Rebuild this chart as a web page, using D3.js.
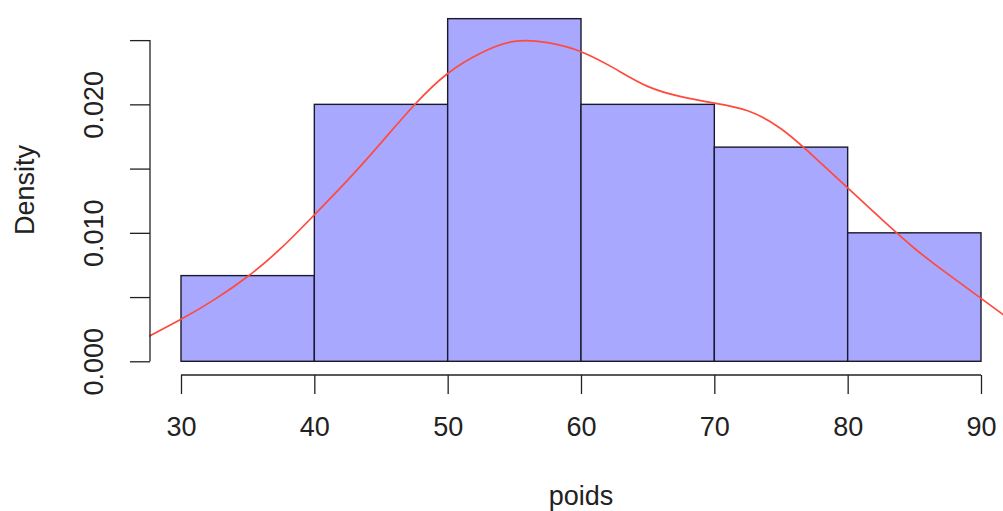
<!DOCTYPE html>
<meta charset="utf-8">
<head>
<style>
  body { margin: 0; background: #fff; }
  svg { display: block; font-family: "Liberation Sans", Arial, sans-serif; }
  .axis text { font-size: 27px; fill: #222; }
  .axis line, .axis-line { stroke: #222; stroke-width: 1.3; }
</style>
</head>
<body>
<script src="https://cdnjs.cloudflare.com/ajax/libs/d3/7.8.5/d3.min.js"></script>
<script>

// histogram bins (poids) and density heights
const binStarts = [30, 40, 50, 60, 70, 80];
const binEnds   = [40, 50, 60, 70, 80, 90];
const densities = [0.00667, 0.02, 0.02667, 0.02, 0.01667, 0.01];

// kernel density curve
const kdeX = [27.5, 30, 32.5, 35, 37.5, 40, 42.5, 45, 47.5, 50, 52.5, 55, 57.5, 60, 62.5, 65, 67.5, 70, 72.5, 75, 77.5, 80, 82.5, 85, 87.5, 90, 92.5];
const kdeY = [0.0019, 0.00327, 0.0048, 0.0066, 0.0088, 0.0114, 0.0141, 0.0170, 0.01995, 0.0224, 0.0240, 0.0249, 0.0248, 0.0241, 0.0228, 0.0214, 0.0206, 0.0201, 0.0195, 0.0181, 0.0159, 0.0135, 0.0111, 0.0088, 0.0068, 0.0049, 0.0030];

const xTicks = [30, 40, 50, 60, 70, 80, 90];
const yTicks = [0, 0.005, 0.01, 0.015, 0.02, 0.025];
const yLabelled = [0, 0.01, 0.02];

const width = 1003, height = 511;

const x = d3.scaleLinear().domain([27.6, 92.4]).range([149, 1013]);
const y = d3.scaleLinear().domain([-0.0010667, 0.0277333]).range([375, 5]);

const svg = d3.select("body").append("svg")
  .attr("width", width)
  .attr("height", height);

svg.append("defs").append("clipPath")
    .attr("id", "plot")
  .append("rect")
    .attr("x", 149).attr("y", 5)
    .attr("width", 864).attr("height", 370);

// bars
const bins = binStarts.map((s, i) => ({ lo: s, hi: binEnds[i], d: densities[i] }));
svg.append("g")
  .selectAll("rect")
  .data(bins)
  .join("rect")
    .attr("x", d => x(d.lo))
    .attr("y", d => y(d.d))
    .attr("width", d => x(d.hi) - x(d.lo))
    .attr("height", d => y(0) - y(d.d))
    .attr("fill", "#a8a8ff")
    .attr("stroke", "#1a1a2a")
    .attr("stroke-width", 1.4);

// density curve
const pts = kdeX.map((v, i) => [v, kdeY[i]]);
svg.append("path")
  .datum(pts)
  .attr("clip-path", "url(#plot)")
  .attr("fill", "none")
  .attr("stroke", "#ff4a3d")
  .attr("stroke-width", 1.7)
  .attr("d", d3.line().x(d => x(d[0])).y(d => y(d[1])).curve(d3.curveNatural));

// x axis
const gx = svg.append("g")
  .attr("class", "axis")
  .attr("transform", "translate(0,375)")
  .call(d3.axisBottom(x).tickValues(xTicks).tickSize(19).tickSizeOuter(0).tickPadding(23));
gx.select(".domain").remove();
gx.append("line").attr("class", "axis-line")
  .attr("x1", x(30)).attr("x2", x(90));

// y axis
const gy = svg.append("g")
  .attr("class", "axis")
  .attr("transform", "translate(150,0)")
  .call(d3.axisLeft(y).tickValues(yTicks).tickSize(20).tickSizeOuter(0)
    .tickFormat(d => yLabelled.some(v => Math.abs(v - d) < 1e-9) ? d3.format(".3f")(d) : ""));
gy.select(".domain").remove();
gy.selectAll("text")
  .attr("x", null)
  .attr("dy", null)
  .attr("text-anchor", "middle")
  .attr("transform", "translate(-47,0) rotate(-90)");
gy.append("line").attr("class", "axis-line")
  .attr("y1", y(0)).attr("y2", y(0.025));

// titles
svg.append("text")
  .attr("x", 581).attr("y", 505)
  .attr("text-anchor", "middle")
  .attr("font-size", 27).attr("fill", "#222")
  .text("poids");

svg.append("text")
  .attr("transform", "translate(34,190) rotate(-90)")
  .attr("text-anchor", "middle")
  .attr("font-size", 27).attr("fill", "#222")
  .text("Density");

</script>
</body>
